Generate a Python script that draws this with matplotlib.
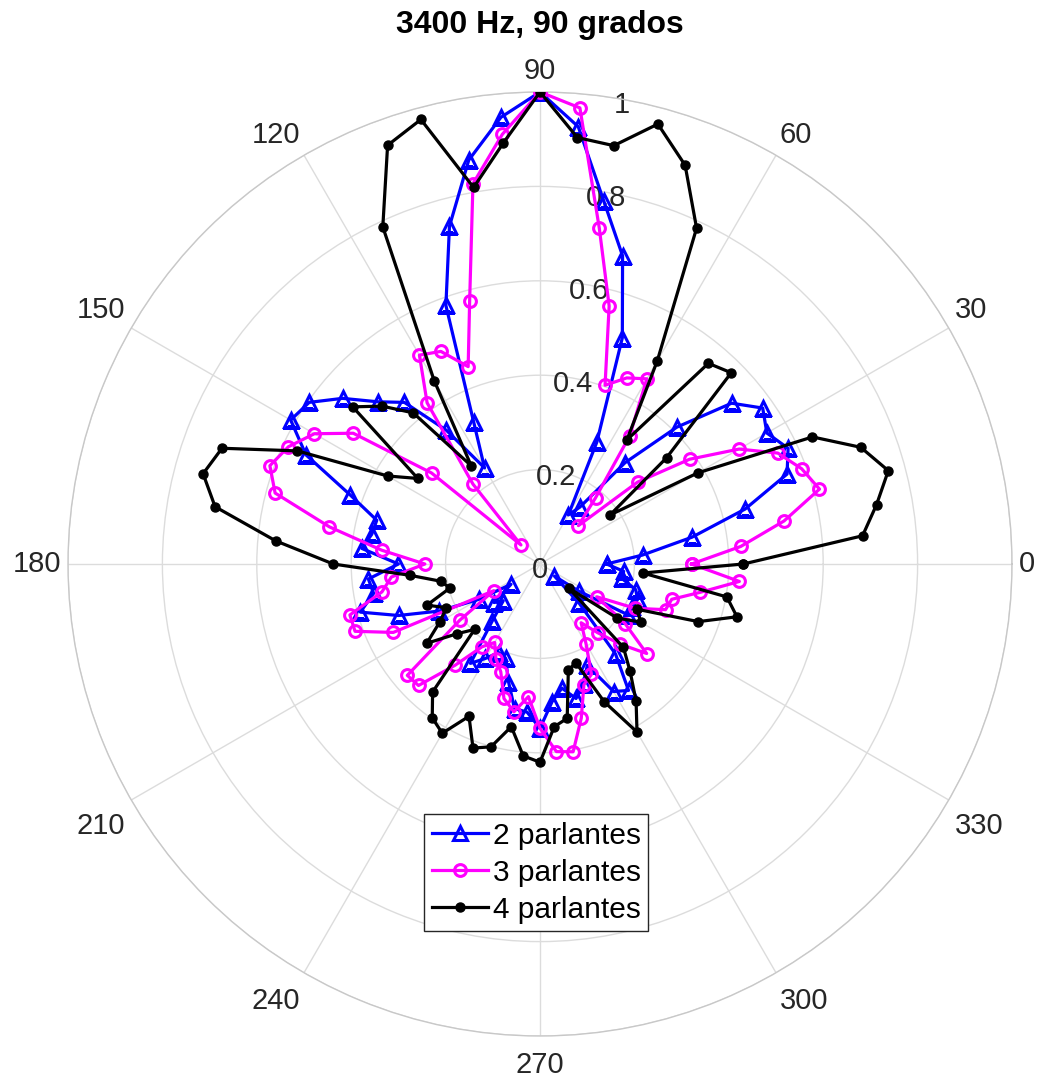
import numpy as np
import matplotlib
matplotlib.use("Agg")
import matplotlib.pyplot as plt

plt.rcParams['font.family'] = ['Liberation Sans', 'DejaVu Sans']

angles_deg = [0, 5, 10, 15, 20, 25, 30, 35, 40, 45, 50, 55, 60, 65, 70, 75, 80, 85,
              90, 95, 100, 105, 110, 115, 120, 125, 130, 135, 140, 145, 150, 155, 160, 165, 170, 175,
              180, 185, 190, 195, 200, 205, 210, 215, 220, 225, 230, 235, 240, 245, 250, 255, 260, 265,
              270, 275, 280, 285, 290, 295, 300, 305, 310, 315, 320, 325, 330, 335, 340, 345, 350, 355]

dos_parlantes = [0.141, 0.218, 0.327, 0.45, 0.557, 0.58, 0.555, 0.576, 0.53, 0.41, 0.28, 0.147,
                 0.12, 0.285, 0.51, 0.676, 0.78, 0.93,
                 1.0, 0.95, 0.869, 0.741, 0.583, 0.333, 0.235, 0.346, 0.447, 0.486, 0.546, 0.597,
                 0.61, 0.547, 0.428, 0.358, 0.362, 0.379,
                 0.30, 0.365, 0.358, 0.394, 0.319, 0.236, 0.15, 0.075, 0.127, 0.11, 0.157, 0.257,
                 0.231, 0.207, 0.213, 0.258, 0.311, 0.315,
                 0.348, 0.293, 0.267, 0.295, 0.27, 0.237, 0.312, 0.327, 0.249, 0.117, 0.04, 0.10,
                 0.216, 0.215, 0.22, 0.21, 0.176, 0.178]

tres_parlantes = [0.321, 0.427, 0.525, 0.613, 0.59, 0.556, 0.487, 0.387, 0.27, 0.115, 0.183, 0.331,
                  0.453, 0.435, 0.403, 0.566, 0.723, 0.97,
                  1.0, 0.914, 0.818, 0.576, 0.445, 0.497, 0.511, 0.417, 0.221, 0.057, 0.30, 0.483,
                  0.552, 0.588, 0.609, 0.581, 0.453, 0.337,
                  0.244, 0.316, 0.34, 0.417, 0.417, 0.343, 0.113, 0.207, 0.367, 0.364, 0.28, 0.214,
                  0.192, 0.221, 0.243, 0.295, 0.318, 0.282,
                  0.348, 0.399, 0.404, 0.338, 0.272, 0.258, 0.195, 0.152, 0.19, 0.24, 0.295, 0.22,
                  0.139, 0.222, 0.283, 0.289, 0.345, 0.424]

cuatro_parlantes = [0.431, 0.686, 0.724, 0.764, 0.723, 0.637, 0.386, 0.181, 0.35, 0.573, 0.555, 0.321,
                    0.497, 0.785, 0.899, 0.965, 0.90, 0.907,
                    1.0, 0.895, 0.81, 0.975, 0.944, 0.788, 0.448, 0.254, 0.418, 0.473, 0.518, 0.316,
                    0.373, 0.567, 0.717, 0.739, 0.699, 0.562,
                    0.438, 0.276, 0.212, 0.198, 0.255, 0.219, 0.245, 0.293, 0.23, 0.196, 0.354, 0.398,
                    0.414, 0.356, 0.415, 0.401, 0.35, 0.408,
                    0.42, 0.346, 0.332, 0.232, 0.223, 0.322, 0.411, 0.355, 0.297, 0.25, 0.079, 0.2,
                    0.246, 0.227, 0.357, 0.432, 0.402, 0.219]

series_labels = ['2 parlantes', '3 parlantes', '4 parlantes']
theta_ticks = [0, 30, 60, 90, 120, 150, 180, 210, 240, 270, 300, 330]
r_ticks = [0, 0.2, 0.4, 0.6, 0.8, 1.0]
r_tick_labels = ['0', '0.2', '0.4', '0.6', '0.8', '1']
title = '3400 Hz, 90 grados'
r_label_angle = 80


def closed(a):
    return list(a) + [a[0]]


th = np.deg2rad(closed(angles_deg))

fig = plt.figure(figsize=(10.37, 10.78), dpi=100)
ax = fig.add_axes([68 / 1037, 42 / 1078, 944 / 1037, 944 / 1078], projection='polar')

ax.plot(th, closed(dos_parlantes), color='#0000ff', lw=2.3, marker='^', ms=10.5,
        mfc='none', mew=2.2, label=series_labels[0], zorder=3)
ax.plot(th, closed(tres_parlantes), color='#ff00ff', lw=2.3, marker='o', ms=8.5,
        mfc='none', mew=2.2, label=series_labels[1], zorder=4)
ax.plot(th, closed(cuatro_parlantes), color='black', lw=2.3, marker='o', ms=6.5,
        mfc='black', mew=1, label=series_labels[2], zorder=5)

ax.set_ylim(0, 1)
ax.set_yticks(r_ticks)
ax.set_yticklabels([])
for r, lab in zip(r_ticks, r_tick_labels):
    ax.annotate(lab, xy=(np.deg2rad(r_label_angle), r), xytext=(0, -6),
                textcoords='offset pixels', ha='center', va='center',
                fontsize=21, color='#262626', zorder=2)

ax.set_xticks(np.deg2rad(theta_ticks))
ax.set_xticklabels([])
for t in theta_ticks:
    c, s = np.cos(np.deg2rad(t)), np.sin(np.deg2rad(t))
    ha = 'left' if c > 0.01 else ('right' if c < -0.01 else 'center')
    va = 'bottom' if s > 0.01 else ('top' if s < -0.01 else 'center')
    d = 7
    extra = -8 if s < -0.01 else 0
    ax.annotate(str(t), xy=(np.deg2rad(t), 1.0), xytext=(d * c, d * s + extra),
                textcoords='offset pixels', ha=ha, va=va,
                fontsize=21, color='#262626', annotation_clip=False)

ax.grid(True, color='#dcdcdc', lw=1.0)
ax.spines['polar'].set_color('#c8c8c8')
ax.spines['polar'].set_linewidth(1.0)

fig.text(540 / 1037, 1 - 25 / 1078, title, ha='center', va='center',
         fontsize=23, fontweight='bold', color='black')

leg = ax.legend(loc='center', bbox_to_anchor=(0.496, 0.173), fontsize=21.5,
                fancybox=False, framealpha=1, edgecolor='#262626',
                handlelength=1.9, handletextpad=0.15, borderpad=0.25, labelspacing=0.3,
                borderaxespad=0)
leg.get_frame().set_linewidth(1.0)

fig.savefig('out.png', dpi=100)
